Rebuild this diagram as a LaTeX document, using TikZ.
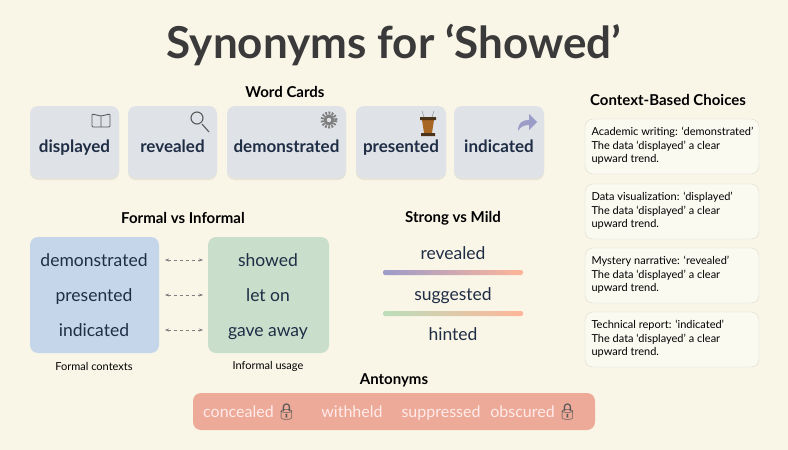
\documentclass[tikz,border=0pt]{standalone}
\usepackage{fontspec}
\setmainfont{Lato}
\newfontfamily\emo{Noto Emoji}
\usetikzlibrary{arrows.meta,shadows}
\definecolor{bg}{HTML}{F9F6E8}
\definecolor{navy}{HTML}{1F2D45}
\definecolor{ttl}{HTML}{3A3A3A}
\definecolor{card}{HTML}{DFE3E8}
\definecolor{formal}{HTML}{C5D6EA}
\definecolor{informal}{HTML}{C9DFCC}
\definecolor{anto}{HTML}{EEAA98}
\definecolor{ctxb}{HTML}{DEDBD0}
\tikzset{
 head/.style={font=\fontsize{15}{17}\selectfont\bfseries,text=black},
 cardbox/.style={draw=none,fill=card,rounded corners=8pt,drop shadow={opacity=0.15,shadow xshift=0pt,shadow yshift=-2pt}},
 cw/.style={font=\fontsize{17}{20}\selectfont\bfseries,text=navy,text height=12pt,text depth=4pt,yshift=-2pt},
 bw/.style={font=\fontsize{17.5}{20}\selectfont,text=navy,text height=12pt,text depth=4pt,yshift=-2pt},
 aw/.style={font=\fontsize{16}{19}\selectfont,text=white!92!red,text height=12pt,text depth=4pt,yshift=-1pt},
 ctx/.style={draw=ctxb,fill=bg!60!white,rounded corners=8pt},
 ctxt/.style={font=\fontsize{11}{13.5}\selectfont,text=black,anchor=north west,align=left},
 dash2/.style={dashed,gray,{Stealth[length=4pt]}-{Stealth[length=4pt]}},
}
\begin{document}
\begin{tikzpicture}[x=1pt,y=-1pt]
\fill[bg] (0,0) rectangle (788,450);
\useasboundingbox (0,0) rectangle (788,450);
\node[font=\fontsize{44}{50}\selectfont\bfseries,text=ttl] (title) at (394,45) {Synonyms for ‘Showed’};
\node[head] (wc) at (285,92) {Word Cards};
% cards
\foreach \n/\a/\b/\w in {c1/30/119/displayed,c2/128/217/revealed,c3/227/346/demonstrated,c4/356/446/presented,c5/454/544/indicated}{
 \path[cardbox] (\a,106) rectangle (\b,178);
 \node[cw] (\n) at ({(\a+\b)/2},146) {\w};
}
% icons
\draw[gray!70!black,line width=0.9pt,rounded corners=1pt] (101,127) -- (92,127) -- (92,114) -- (101,116) -- (110,114) -- (110,127) -- cycle (101,116) -- (101,127);
\draw[gray!70!black,line width=1.1pt] (197,118) circle (6pt) (202,124) -- (209,132);
\draw[gray,line width=3pt,dash pattern=on 1.8pt off 1.4pt] (329,120) circle (7pt);
\fill[gray] (329,120) circle (5.5pt); \fill[card] (329,120) circle (2.2pt);
\fill[brown!70!orange!80!black] (422,120) -- (434,120) -- (432,133) -- (424,133) -- cycle;
\fill[brown!40!black] (420,117) rectangle (436,120) (421,133) rectangle (435,136);
\draw[gray] (424,117) -- (422,111) (432,117) -- (434,111);
\fill[gray!70!blue!60] (518,131) .. controls (518,122) and (523,120) .. (529,120) -- (529,114) -- (537,122) -- (529,130) -- (529,125) .. controls (524,125) and (520,127) .. (518,131) -- cycle;
% formal vs informal
\node[head] (fi) at (183,218) {Formal vs Informal};
\path[fill=formal,rounded corners=8pt] (30,237) rectangle (159,353);
\path[fill=informal,rounded corners=8pt] (208,237) rectangle (329,353);
\node[bw] (f1) at (94,260) {demonstrated};
\node[bw] (f2) at (94,295) {presented};
\node[bw] (f3) at (94,330) {indicated};
\node[bw] (i1) at (268,260) {showed};
\node[bw] (i2) at (268,295) {let on};
\node[bw] (i3) at (268,330) {gave away};
\coordinate (l1) at (165,260); \coordinate (r1) at (203,260);
\coordinate (l2) at (165,295); \coordinate (r2) at (203,295);
\coordinate (l3) at (165,330); \coordinate (r3) at (203,330);
\draw[dash2] (l1) -- (r1); \draw[dash2] (l2) -- (r2); \draw[dash2] (l3) -- (r3);
\node[font=\fontsize{11}{13}\selectfont] (fc) at (94,366) {Formal contexts};
\node[font=\fontsize{11}{13}\selectfont] (iu) at (268,366) {Informal usage};
% strong vs mild
\node[head] (sm) at (453,218) {Strong vs Mild};
\node[bw] (s1) at (453,253) {revealed};
\node[bw] (s2) at (453,294) {suggested};
\node[bw] (s3) at (453,334) {hinted};
\shade[left color=blue!30!gray!60,right color=red!45!orange!40,rounded corners=2pt] (383,270) rectangle (523,275);
\shade[left color=green!35!gray!40,right color=red!45!orange!40,rounded corners=2pt] (383,311) rectangle (523,316);
% context
\node[head] (cb) at (668,100) {Context-Based Choices};
\foreach \n/\y/\t in {k1/119/Academic writing: ‘demonstrated’,k2/184/Data visualization: ‘displayed’,k3/248/Mystery narrative: ‘revealed’,k4/312/Technical report: ‘indicated’}{
 \path[ctx] (585,\y) rectangle (759,\y+55);
 \node[ctxt] (\n) at (588,\y+5) {\t\\The data ‘displayed’ a clear\\upward trend.};
}
% antonyms
\node[head] (an) at (394,380) {Antonyms};
\path[fill=anto,rounded corners=8pt] (193,393) rectangle (595,430);
\node[aw] (a1) at (250,412) {concealed\,{\emo\textcolor{gray!70!black}{🔒}}};
\node[aw] (a2) at (352,412) {withheld};
\node[aw] (a3) at (441,412) {suppressed};
\node[aw] (a4) at (534,412) {obscured\,{\emo\textcolor{gray!70!black}{🔒}}};
\end{tikzpicture}
\end{document}
